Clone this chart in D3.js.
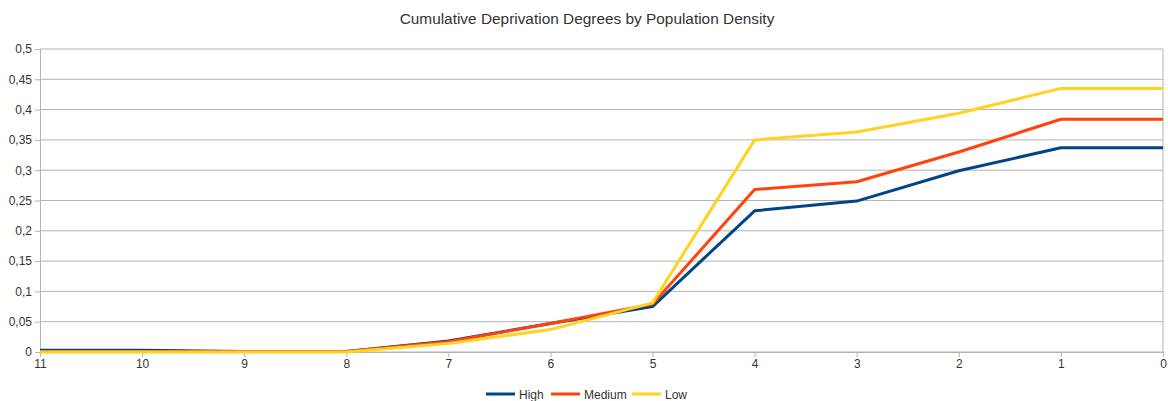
<!DOCTYPE html>
<head>
  <meta charset="utf-8">
  <script src="https://d3js.org/d3.v7.min.js"></script>
  <style>
    body { margin:0; background:#fff; }
    svg { font-family: "Liberation Sans", Arial, sans-serif; }
  </style>
</head>
<body>
  <svg width="1168" height="401"></svg>
  <script>
    // categories on the x axis (descending)
    var categories = ['11','10','9','8','7','6','5','4','3','2','1','0'];
    var highValues   = [0.003, 0.003, 0.001, 0.001, 0.018, 0.047, 0.075, 0.233, 0.249, 0.299, 0.337, 0.337];
    var mediumValues = [0.001, 0.001, 0.001, 0.001, 0.017, 0.047, 0.079, 0.268, 0.281, 0.330, 0.384, 0.384];
    var lowValues    = [0.000, 0.000, 0.000, 0.000, 0.014, 0.037, 0.081, 0.350, 0.363, 0.394, 0.435, 0.435];
    var yTicks = [0, 0.05, 0.1, 0.15, 0.2, 0.25, 0.3, 0.35, 0.4, 0.45, 0.5];
    var seriesNames = ['High', 'Medium', 'Low'];
    var colors = ['#004586', '#ff420e', '#ffd320'];

    var margin = {top: 49, right: 5, bottom: 49, left: 40};
    var width = 1168, height = 401;
    var svg = d3.select('svg');

    var x = d3.scalePoint().domain(categories).range([margin.left, width - margin.right]);
    var y = d3.scaleLinear().domain([0, 0.5]).range([height - margin.bottom, margin.top]);
    var fmt = d => String(d).replace('.', ',');

    // grid
    svg.append('g').selectAll('line').data(yTicks).join('line')
      .attr('x1', margin.left).attr('x2', width - margin.right)
      .attr('y1', d => y(d)).attr('y2', d => y(d))
      .attr('stroke', '#b3b3b3').attr('stroke-width', 1);
    svg.append('line')
      .attr('x1', width - margin.right).attr('x2', width - margin.right)
      .attr('y1', y(0.5)).attr('y2', y(0))
      .attr('stroke', '#b3b3b3');

    // axes
    var yAxis = svg.append('g')
      .attr('transform', 'translate(' + margin.left + ',0)')
      .call(d3.axisLeft(y).tickValues(yTicks).tickFormat(fmt).tickSize(5).tickPadding(3));
    var xAxis = svg.append('g')
      .attr('transform', 'translate(0,' + y(0) + ')')
      .call(d3.axisBottom(x).tickSize(5).tickPadding(2));
    [yAxis, xAxis].forEach(g => {
      g.select('.domain').attr('stroke', '#b3b3b3');
      g.selectAll('.tick line').attr('stroke', '#b3b3b3');
      g.selectAll('.tick text').attr('fill', '#333').style('font-size', '12px');
    });

    // lines
    var line = d3.line().x((d, i) => x(categories[i])).y(d => y(d));
    [highValues, mediumValues, lowValues].forEach((vals, i) => {
      svg.append('path')
        .attr('d', line(vals))
        .attr('fill', 'none')
        .attr('stroke', colors[i])
        .attr('stroke-width', 3)
        .attr('stroke-linejoin', 'round');
    });

    // title
    svg.append('text')
      .attr('x', 587).attr('y', 24)
      .attr('text-anchor', 'middle')
      .style('font-size', '15.4px').attr('fill', '#333')
      .text('Cumulative Deprivation Degrees by Population Density');

    // legend
    var legendX = [486, 551, 632];
    var legend = svg.append('g');
    seriesNames.forEach((name, i) => {
      legend.append('line')
        .attr('x1', legendX[i]).attr('x2', legendX[i] + 29)
        .attr('y1', 394).attr('y2', 394)
        .attr('stroke', colors[i]).attr('stroke-width', 3);
      legend.append('text')
        .attr('x', legendX[i] + 33).attr('y', 398.5)
        .style('font-size', '12px').attr('fill', '#333')
        .text(name);
    });
  </script>
</body>
